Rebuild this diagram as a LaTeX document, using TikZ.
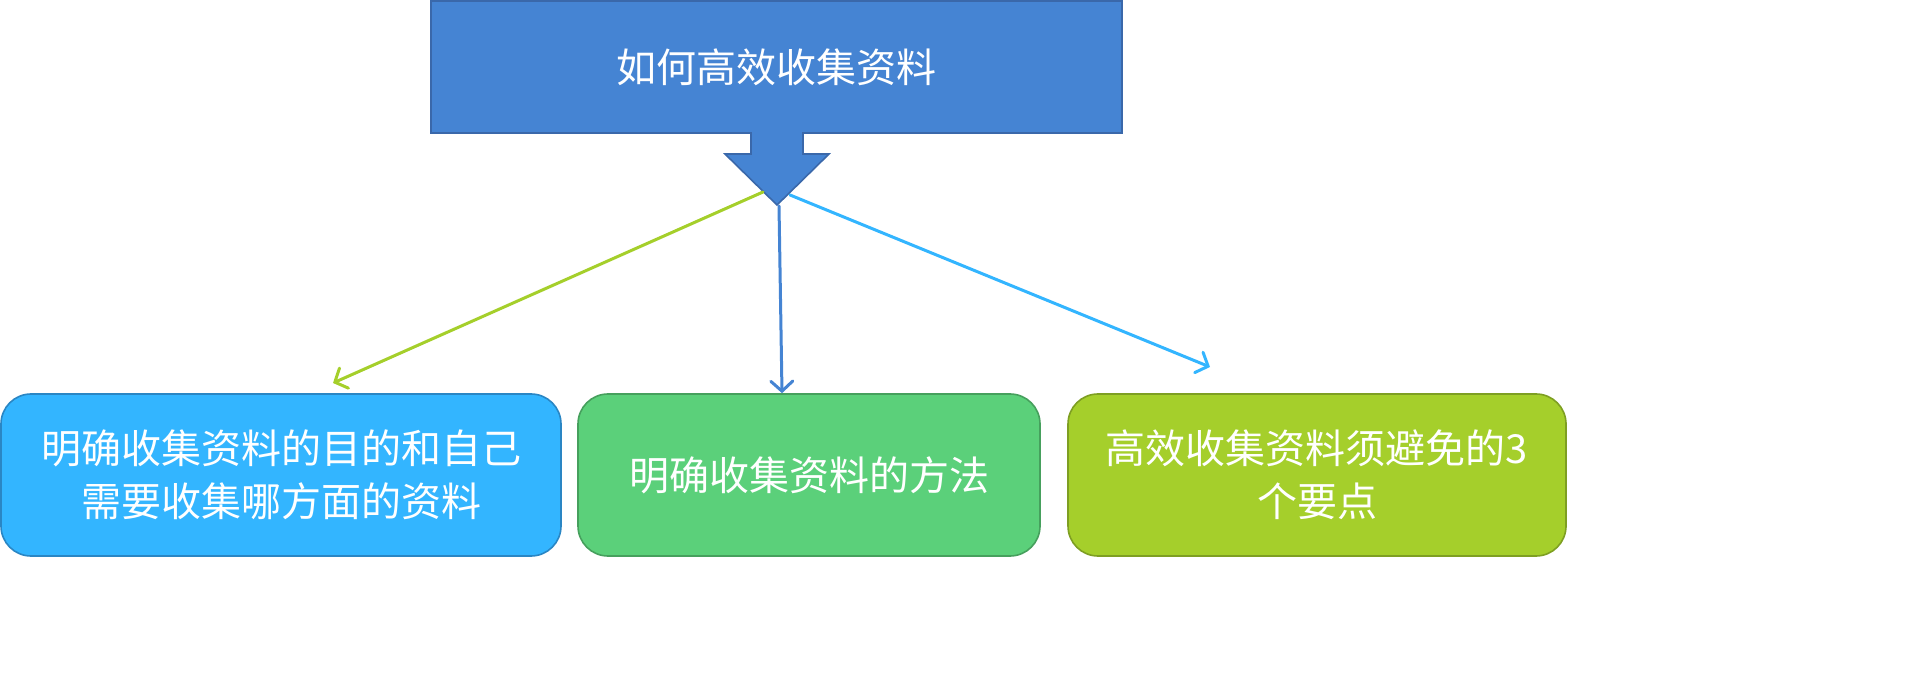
\documentclass[tikz,border=0pt]{standalone}
\usepackage{fontspec}
\setmainfont{Noto Sans CJK SC}
\usetikzlibrary{arrows.meta}
\definecolor{topfill}{HTML}{4584D3}
\definecolor{topline}{HTML}{3A68AA}
\definecolor{bluefill}{HTML}{33B5FF}
\definecolor{blueline}{HTML}{2A86C4}
\definecolor{greenfill}{HTML}{5BD07A}
\definecolor{greenline}{HTML}{46A05D}
\definecolor{limefill}{HTML}{A5CF2B}
\definecolor{limeline}{HTML}{7E9F22}
\tikzset{
  box/.style={rounded corners=15pt, minimum height=81pt, inner sep=0pt, line width=0.8pt,
    text=white, align=center, font=\fontsize{20pt}{26.5pt}\selectfont},
  conn/.style={line width=1.5pt, -{Straight Barb[length=5pt,width=11pt,line cap=round]}, line cap=round},
}
\begin{document}
\begin{tikzpicture}[x=0.5pt,y=-0.5pt]
\useasboundingbox (0,0) rectangle (1920,683);
% top callout
\draw[fill=topfill, draw=topline, line width=0.8pt]
  (431,1) -- (1122,1) -- (1122,133) -- (803,133) -- (803,154) -- (829,154)
  -- (777,205) -- (725,154) -- (751,154) -- (751,133) -- (431,133) -- cycle;
\node[text=white, font=\fontsize{20pt}{24pt}\selectfont, minimum width=345pt, minimum height=66pt, inner sep=0pt] (top) at (776.5,67) {如何高效收集资料};
\coordinate (tipL) at (763,192);
\coordinate (tipM) at (779,206);
\coordinate (tipR) at (790,195);
% boxes
\node[box, fill=bluefill, draw=blueline, minimum width=280pt] (b1) at (281,475)
  {明确收集资料的目的和自己\\需要收集哪方面的资料};
\node[box, fill=greenfill, draw=greenline, minimum width=231pt] (b2) at (809,475)
  {明确收集资料的方法};
\node[box, fill=limefill, draw=limeline, minimum width=249pt] (b3) at (1317,475)
  {高效收集资料须避免的3\\个要点};
\coordinate (endL) at (333,383);
\coordinate (endR) at (1210,367);
% connectors
\draw[conn, draw=limefill] (tipL) -- (endL);
\draw[conn, draw=topfill] (tipM) -- (b2.north -| 782,0);
\draw[conn, draw=bluefill] (tipR) -- (endR);
\end{tikzpicture}
\end{document}
